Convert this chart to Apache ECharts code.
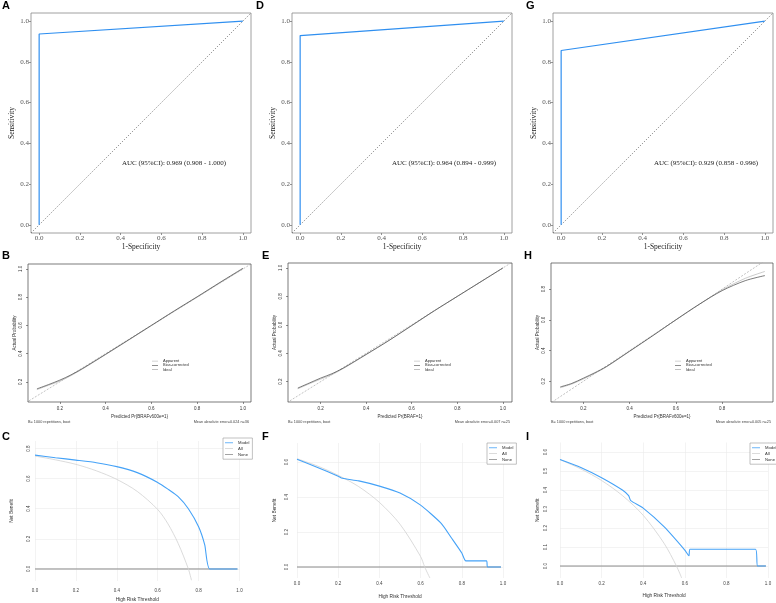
<!DOCTYPE html>
<html>
<head>
<meta charset="utf-8">
<title>ROC, calibration and decision curves</title>
<script src="https://cdn.jsdelivr.net/npm/echarts@6.0.0/dist/echarts.min.js"></script>
<style>
  html, body { margin: 0; padding: 0; background: #ffffff; }
  #chart { width: 776px; height: 603px; }
</style>
</head>
<body>
<div id="chart"></div>
<script>
// ROC curves: [1-specificity, sensitivity]
const rocA = [[0, 0], [0, 0.937], [1, 1]];
const rocD = [[0, 0], [0, 0.929], [1, 1]];
const rocG = [[0, 0], [0, 0.856], [1, 1]];
const rocDiag = [[-0.04, -0.04], [1.04, 1.04]];
const aucA = "AUC (95%CI): 0.969 (0.908 - 1.000)";
const aucD = "AUC (95%CI): 0.964 (0.894 - 0.999)";
const aucG = "AUC (95%CI): 0.929 (0.858 - 0.996)";
const rocTicks = [0, 0.2, 0.4, 0.6, 0.8, 1.0];

// calibration curves: [predicted, actual]
const calB_bias = [[0.1, 0.15], [0.15, 0.18], [0.2, 0.212], [0.25, 0.25], [0.3, 0.295], [0.4, 0.395], [0.5, 0.497], [0.6, 0.6], [0.7, 0.703], [0.8, 0.803], [0.9, 0.905], [1.0, 1.005]];
const calB_app = [[0.1, 0.145], [0.15, 0.175], [0.2, 0.205], [0.25, 0.245], [0.3, 0.292], [0.4, 0.393], [0.5, 0.495], [0.6, 0.598], [0.7, 0.7], [0.8, 0.8], [0.9, 0.902], [1.0, 1.0]];
const calE_bias = [[0.1, 0.155], [0.15, 0.19], [0.2, 0.225], [0.25, 0.256], [0.3, 0.296], [0.4, 0.392], [0.5, 0.49], [0.6, 0.595], [0.7, 0.7], [0.8, 0.8], [0.9, 0.9], [1.0, 1.0]];
const calE_app = [[0.1, 0.15], [0.15, 0.185], [0.2, 0.218], [0.25, 0.25], [0.3, 0.293], [0.4, 0.39], [0.5, 0.49], [0.6, 0.594], [0.7, 0.699], [0.8, 0.8], [0.9, 0.9], [1.0, 1.0]];
const calH_bias = [[0.1, 0.163], [0.15, 0.186], [0.2, 0.22], [0.25, 0.256], [0.3, 0.296], [0.4, 0.396], [0.5, 0.497], [0.6, 0.6], [0.7, 0.7], [0.8, 0.79], [0.9, 0.855], [0.985, 0.888]];
const calH_app = [[0.1, 0.158], [0.15, 0.182], [0.2, 0.215], [0.25, 0.252], [0.3, 0.294], [0.4, 0.395], [0.5, 0.496], [0.6, 0.6], [0.7, 0.7], [0.8, 0.795], [0.9, 0.87], [0.985, 0.915]];
const calIdeal = [[0, 0], [1.1, 1.1]];
const calTicks = [0.2, 0.4, 0.6, 0.8, 1.0];
const calTicksH = [0.2, 0.4, 0.6, 0.8];
const subB = ["B= 1000 repetitions, boot", "Mean absolute error=0.024 n=36"];
const subE = ["B= 1000 repetitions, boot", "Mean absolute error=0.007 n=25"];
const subH = ["B= 1000 repetitions, boot", "Mean absolute error=0.005 n=25"];

// decision curves: [threshold, net benefit]
const dcaC_model = [[0, 0.756], [0.1, 0.739], [0.2, 0.723], [0.3, 0.706], [0.4, 0.68], [0.5, 0.64], [0.6, 0.575], [0.65, 0.53], [0.7, 0.48], [0.75, 0.4], [0.8, 0.28], [0.83, 0.16], [0.855, 0], [0.99, 0]];
const dcaC_all = [[0, 0.75], [0.1, 0.725], [0.2, 0.695], [0.3, 0.652], [0.4, 0.595], [0.5, 0.515], [0.6, 0.395], [0.65, 0.3], [0.7, 0.17], [0.75, 0], [0.765, -0.075]];
const dcaC_none = [[0, 0], [0.99, 0]];
const dcaF_model = [[0, 0.617], [0.1, 0.57], [0.2, 0.52], [0.22, 0.508], [0.3, 0.493], [0.4, 0.463], [0.5, 0.423], [0.6, 0.354], [0.7, 0.25], [0.75, 0.166], [0.8, 0.08], [0.82, 0.035], [0.92, 0.035], [0.925, 0], [0.99, 0]];
const dcaF_all = [[0, 0.62], [0.1, 0.578], [0.2, 0.525], [0.3, 0.46], [0.4, 0.37], [0.5, 0.245], [0.6, 0.06], [0.62, 0], [0.645, -0.063]];
const dcaF_none = [[0, 0], [0.99, 0]];
const dcaI_model = [[0, 0.561], [0.1, 0.519], [0.2, 0.465], [0.3, 0.4], [0.33, 0.37], [0.34, 0.344], [0.4, 0.305], [0.5, 0.207], [0.6, 0.084], [0.62, 0.054], [0.625, 0.088], [0.94, 0.088], [0.95, 0], [0.99, 0]];
const dcaI_all = [[0, 0.56], [0.1, 0.511], [0.2, 0.45], [0.3, 0.371], [0.4, 0.267], [0.5, 0.12], [0.56, 0], [0.585, -0.063]];
const dcaI_none = [[0, 0], [0.99, 0]];
const dcaTicksX = [0, 0.2, 0.4, 0.6, 0.8, 1.0];
const dcaTicksC = [0, 0.2, 0.4, 0.6, 0.8];
const dcaTicksF = [0, 0.2, 0.4, 0.6];
const dcaTicksI = [0, 0.1, 0.2, 0.3, 0.4, 0.5, 0.6];

const serif = "'Liberation Serif', 'DejaVu Serif', serif";
const sans = "'Liberation Sans', Arial, sans-serif";
const rocBlue = "#2f8ff0";
const dcaBlue = "#45a2f7";
const allGrey = "#d2d2d2";
const noneGrey = "#8c8c8c";

const chart = echarts.init(document.getElementById("chart"));

const grids = [];
const xAxes = [];
const yAxes = [];
const series = [];
const legends = [];
const texts = [];

function label(x, y, text, opts) {
  texts.push({
    type: "text",
    x: x,
    y: y,
    silent: true,
    style: Object.assign({ text: text, fill: "#222", font: "7px " + sans, textVerticalAlign: "middle" }, opts || {})
  });
}

function lineSeries(gi, name, data, color, width, extra) {
  return Object.assign({
    name: name, type: "line", xAxisIndex: gi, yAxisIndex: gi, data: data,
    symbol: "none", silent: true,
    itemStyle: { color: color },
    lineStyle: { color: color, width: width }
  }, extra || {});
}

// ---- ROC panels
function rocPanel(left, roc, auc, aucX) {
  const gi = grids.length;
  grids.push({ left: left, top: 13, width: 220, height: 220, show: true, borderColor: "#888", borderWidth: 0.8 });
  xAxes.push({
    gridIndex: gi, type: "value", min: -0.04, max: 1.04,
    axisLine: { show: false, onZero: false },
    axisTick: { show: true, length: 2, customValues: rocTicks, lineStyle: { color: "#777", width: 0.8 } },
    axisLabel: { customValues: rocTicks, formatter: (v) => v.toFixed(1), fontFamily: serif, fontSize: 7, color: "#555", margin: 2 },
    splitLine: { show: false },
    name: "1-Specificity", nameLocation: "middle", nameGap: 9,
    nameTextStyle: { fontFamily: serif, fontSize: 7.5, color: "#222" }
  });
  yAxes.push({
    gridIndex: gi, type: "value", min: -0.04, max: 1.04,
    axisLine: { show: false, onZero: false },
    axisTick: { show: true, length: 2, customValues: rocTicks, lineStyle: { color: "#777", width: 0.8 } },
    axisLabel: { customValues: rocTicks, formatter: (v) => v.toFixed(1), fontFamily: serif, fontSize: 7, color: "#555", margin: 2 },
    splitLine: { show: false },
    name: "Sensitivity", nameLocation: "middle", nameGap: 9,
    nameTextStyle: { fontFamily: serif, fontSize: 7.5, color: "#222" }
  });
  const diag = lineSeries(gi, "diag", rocDiag, "#555", 0.7);
  diag.lineStyle.type = [1.2, 1.6];
  series.push(diag);
  series.push(lineSeries(gi, "roc", roc, rocBlue, 1.2));
  label(aucX, 163, auc, { font: "7px " + serif, textAlign: "center" });
}

rocPanel(31, rocA, aucA, 174);
rocPanel(292, rocD, aucD, 444);
rocPanel(553, rocG, aucG, 706);

// ---- calibration panels
function calPanel(box, xr, yr, xt, yt, bias, app, xName, sub, legLeft) {
  const gi = grids.length;
  grids.push({ left: box[0], top: box[1], width: box[2], height: box[3], show: true, borderColor: "#444", borderWidth: 0.7 });
  xAxes.push({
    gridIndex: gi, type: "value", min: xr[0], max: xr[1],
    axisLine: { show: false, onZero: false },
    axisTick: { show: true, length: 2, customValues: xt, lineStyle: { color: "#444", width: 0.6 } },
    axisLabel: { customValues: xt, formatter: (v) => v.toFixed(1), fontFamily: sans, fontSize: 4.5, color: "#333", margin: 4 },
    splitLine: { show: false },
    name: xName, nameLocation: "middle", nameGap: 12,
    nameTextStyle: { fontFamily: sans, fontSize: 4.5, color: "#333" }
  });
  yAxes.push({
    gridIndex: gi, type: "value", min: yr[0], max: yr[1],
    axisLine: { show: false, onZero: false },
    axisTick: { show: true, length: 2, customValues: yt, lineStyle: { color: "#444", width: 0.6 } },
    axisLabel: { customValues: yt, formatter: (v) => v.toFixed(1), rotate: 90, fontFamily: sans, fontSize: 4.5, color: "#333", margin: 5 },
    splitLine: { show: false },
    name: "Actual Probability", nameLocation: "middle", nameGap: 11,
    nameTextStyle: { fontFamily: sans, fontSize: 4.5, color: "#333" }
  });
  const ideal = lineSeries(gi, "Ideal", calIdeal, "#999", 0.6);
  ideal.lineStyle.type = [2, 1.5];
  series.push(ideal);
  series.push(lineSeries(gi, "Apparent", app, "#b5b5b5", 0.7, { smooth: 0.3 }));
  series.push(lineSeries(gi, "Bias-corrected", bias, "#444", 0.7, { smooth: 0.3 }));
  legends.push({
    data: ["Apparent", "Bias-corrected", "Ideal"], left: legLeft, top: 359, orient: "vertical",
    icon: "rect", itemWidth: 6, itemHeight: 0.6, itemGap: 0, padding: 0, selectedMode: false,
    textStyle: { fontFamily: sans, fontSize: 4, lineHeight: 4.2, color: "#333" }
  });
  label(box[0], 422, sub[0], { font: "3.8px " + sans, fill: "#444" });
  label(box[0] + box[2] - 2, 422, sub[1], { font: "3.8px " + sans, fill: "#444", textAlign: "right" });
}

calPanel([28, 264, 223, 138], [0.061, 1.035], [0.057, 1.035], calTicks, calTicks, calB_bias, calB_app, "Predicted Pr{BRAFv600e=1}", subB, 152);
calPanel([288, 263, 224, 139], [0.057, 1.04], [0.057, 1.035], calTicks, calTicks, calE_bias, calE_app, "Predicted Pr{BRAF=1}", subE, 414);
calPanel([551, 263, 222, 139], [0.06, 1.02], [0.065, 0.97], calTicksH, calTicksH, calH_bias, calH_app, "Predicted Pr{BRAFv600e=1}", subH, 675);

// ---- decision curve panels
function dcaPanel(box, yr, yt, model, all, none, lm, nameGaps, legBox) {
  const gi = grids.length;
  grids.push({ left: box[0], top: box[1], width: box[2], height: box[3] });
  xAxes.push({
    gridIndex: gi, type: "value", min: 0, max: 1,
    axisLine: { show: false, onZero: false },
    axisTick: { show: false, customValues: dcaTicksX },
    axisLabel: { customValues: dcaTicksX, formatter: (v) => v.toFixed(1), fontFamily: sans, fontSize: 4.5, color: "#444", margin: lm[0] },
    splitLine: { show: true, lineStyle: { color: "#ebebeb", width: 0.6 } },
    name: "High Risk Threshold", nameLocation: "middle", nameGap: nameGaps[0],
    nameTextStyle: { fontFamily: sans, fontSize: 4.8, color: "#333" }
  });
  yAxes.push({
    gridIndex: gi, type: "value", min: yr[0], max: yr[1],
    axisLine: { show: false, onZero: false },
    axisTick: { show: false, customValues: yt },
    axisLabel: { customValues: yt, formatter: (v) => v.toFixed(1), rotate: 90, fontFamily: sans, fontSize: 4.5, color: "#444", margin: lm[1] },
    splitLine: { show: true, lineStyle: { color: "#ebebeb", width: 0.6 } },
    name: "Net Benefit", nameLocation: "middle", nameGap: nameGaps[1],
    nameTextStyle: { fontFamily: sans, fontSize: 4.8, color: "#333" }
  });
  series.push(lineSeries(gi, "None", none, noneGrey, 1));
  series.push(lineSeries(gi, "All", all, allGrey, 0.8, { smooth: 0.3 }));
  series.push(lineSeries(gi, "Model", model, dcaBlue, 1.1, { smooth: 0.2 }));
  legends.push({
    data: ["Model", "All", "None"], left: legBox[0], top: legBox[1], orient: "vertical",
    icon: "rect", itemWidth: 8, itemHeight: 0.8, itemGap: 1.2, padding: [2.5, 3, 2.5, 2], selectedMode: false,
    borderColor: "#999", borderWidth: 0.6, backgroundColor: "#fff",
    textStyle: { fontFamily: sans, fontSize: 4.2, lineHeight: 4.6, color: "#333" }
  });
}

dcaPanel([35, 441, 204.5, 142], [-0.08, 0.85], dcaTicksC, dcaC_model, dcaC_all, dcaC_none, [7, 4], [16, 21], [223, 438]);
dcaPanel([297, 443, 206, 135], [-0.063, 0.71], dcaTicksF, dcaF_model, dcaF_all, dcaF_none, [3, 8], [16, 20], [487, 443]);
dcaPanel([560, 442.5, 208, 135.5], [-0.063, 0.65], dcaTicksI, dcaI_model, dcaI_all, dcaI_none, [3, 12], [15, 20], [750, 443]);

// panel letters
const letters = [["A", 2, 6], ["D", 256, 6], ["G", 526, 6], ["B", 2, 256], ["E", 262, 256], ["H", 524, 256], ["C", 2, 437], ["F", 262, 437], ["I", 526, 437]];
letters.forEach((l) => label(l[1], l[2], l[0], { font: "bold 11px " + sans, fill: "#000" }));

chart.setOption({
  backgroundColor: "#ffffff",
  animation: false,
  grid: grids,
  xAxis: xAxes,
  yAxis: yAxes,
  legend: legends,
  series: series,
  graphic: texts
});
</script>
</body>
</html>
